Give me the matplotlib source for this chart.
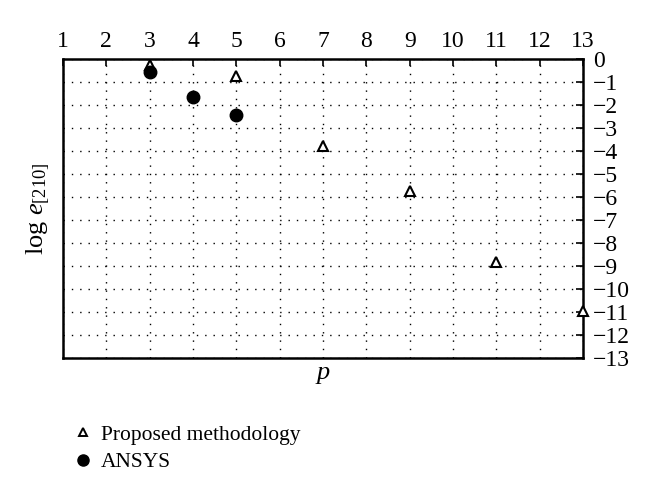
import matplotlib
matplotlib.use("Agg")
import matplotlib.pyplot as plt
from matplotlib.lines import Line2D

plt.rcParams['font.family'] = ['Liberation Serif', 'DejaVu Serif']
plt.rcParams['mathtext.fontset'] = 'custom'
plt.rcParams['mathtext.rm'] = 'Liberation Serif'
plt.rcParams['mathtext.it'] = 'Liberation Serif:italic'

prop_x = [3, 5, 7, 9, 11, 13]
prop_y = [-0.26, -0.74, -3.78, -5.74, -8.83, -10.96]
ansys_x = [3, 4, 5]
ansys_y = [-0.57, -1.65, -2.43]
xticks = list(range(1, 14))
yticks = list(range(0, -14, -1))

fig = plt.figure(figsize=(6.6, 4.95), dpi=100)
ax = fig.add_axes([63/660, 1-358/495, (583-63)/660, (358-59)/495])

ax.plot(prop_x, prop_y, linestyle='none', marker='^', markersize=7,
        markerfacecolor='white', markeredgecolor='black', markeredgewidth=1.5,
        clip_on=False, zorder=5)
ax.plot(ansys_x, ansys_y, linestyle='none', marker='o', markersize=9,
        markerfacecolor='black', markeredgecolor='black', clip_on=False, zorder=5)

ax.set_xlim(1, 13)
ax.set_ylim(-13, 0)
ax.set_xticks(xticks)
ax.set_yticks(yticks)
ax.set_yticklabels(['0'] + ['\u2212%d' % (-v) for v in yticks[1:]])
ax.xaxis.tick_top()
ax.yaxis.tick_right()
ax.tick_params(axis='both', direction='in', length=5, width=1.2, labelsize=17, pad=5)
ax.tick_params(axis='y', pad=7)
for s in ax.spines.values():
    s.set_linewidth(1.8)
ax.grid(True, linestyle=(0, (1, 5)), color='black', linewidth=1.0)

ax.set_xlabel('$p$', fontsize=19, labelpad=4)
ax.xaxis.set_label_position('bottom')
ax.set_ylabel('$\\log\\, e_{[210]}$', fontsize=19, labelpad=8)

handles = [
    Line2D([], [], linestyle='none', marker='^', markersize=6, markerfacecolor='white',
           markeredgecolor='black', markeredgewidth=1.4, label='Proposed methodology'),
    Line2D([], [], linestyle='none', marker='o', markersize=8, markerfacecolor='black',
           markeredgecolor='black', label='ANSYS'),
]
fig.legend(handles=handles, loc='upper left', bbox_to_anchor=(64/660, 1-414/495),
           frameon=False, fontsize=15.5, handlelength=0.8, handletextpad=0.4,
           labelspacing=0.35, borderpad=0)

fig.savefig('out.png', dpi=100)
